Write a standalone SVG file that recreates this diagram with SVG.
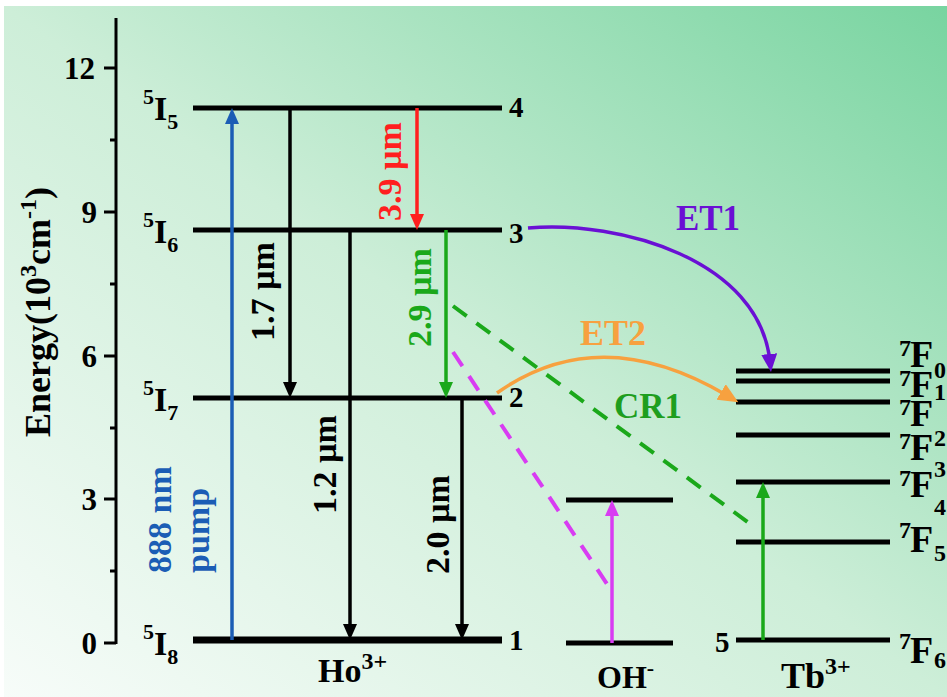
<svg xmlns="http://www.w3.org/2000/svg" width="947" height="697" viewBox="0 0 947 697">
<defs>
<linearGradient id="bg" x1="0" y1="1" x2="1" y2="0">
<stop offset="0" stop-color="#f7fcf9"/>
<stop offset="0.5" stop-color="#cdeed8"/>
<stop offset="1" stop-color="#78d4a0"/>
</linearGradient>
<marker id="ak" markerUnits="userSpaceOnUse" viewBox="0 0 16 14" refX="8" refY="7" markerWidth="16" markerHeight="14" orient="auto"><path d="M0,0 L16,7 L0,14 z" fill="#000"/></marker>
<marker id="ab" markerUnits="userSpaceOnUse" viewBox="0 0 16 14" refX="8" refY="7" markerWidth="16" markerHeight="14" orient="auto"><path d="M0,0 L16,7 L0,14 z" fill="#1b5db5"/></marker>
<marker id="ar" markerUnits="userSpaceOnUse" viewBox="0 0 16 14" refX="8" refY="7" markerWidth="16" markerHeight="14" orient="auto"><path d="M0,0 L16,7 L0,14 z" fill="#ff1f1f"/></marker>
<marker id="ag" markerUnits="userSpaceOnUse" viewBox="0 0 16 14" refX="8" refY="7" markerWidth="16" markerHeight="14" orient="auto"><path d="M0,0 L16,7 L0,14 z" fill="#1aa81a"/></marker>
<marker id="am" markerUnits="userSpaceOnUse" viewBox="0 0 16 14" refX="8" refY="7" markerWidth="16" markerHeight="14" orient="auto"><path d="M0,0 L16,7 L0,14 z" fill="#d83cf2"/></marker>
<marker id="ap" markerUnits="userSpaceOnUse" viewBox="0 0 18 16" refX="8" refY="8" markerWidth="18" markerHeight="16" orient="auto"><path d="M0,0 L18,8 L0,16 z" fill="#6a10d4"/></marker>
<marker id="ao" markerUnits="userSpaceOnUse" viewBox="0 0 20 18" refX="8" refY="9" markerWidth="20" markerHeight="18" orient="auto"><path d="M0,0 L20,9 L0,18 z" fill="#f7a13f"/></marker>
</defs>
<style>
text{font-family:"Liberation Serif","Times New Roman",serif;font-weight:bold;fill:#000}
.lv{stroke:#000;stroke-width:5;fill:none}
.ax{stroke:#000;stroke-width:3;fill:none}
.tk{font-size:31px;text-anchor:end}
.num{font-size:29px}
.rl{font-size:34px}
.sm{font-size:22px}
.big{font-size:34px}
.fs{font-size:24px}
.fl{font-size:38px}
.ar{fill:none;stroke-width:3.5}
.dash{fill:none;stroke-width:4;stroke-dasharray:17 12}
</style>
<rect x="4" y="6" width="943" height="691" fill="url(#bg)"/>

<g id="axis">
<line class="ax" x1="116" y1="18" x2="116" y2="644"/>
<path class="ax" d="M104,68H116M104,212H116M104,356H116M104,499H116M104,643H116M110,140H116M110,284H116M110,428H116M110,571H116"/>
<text class="tk" x="95" y="79">12</text>
<text class="tk" x="97" y="223">9</text>
<text class="tk" x="97" y="367">6</text>
<text class="tk" x="97" y="510">3</text>
<text class="tk" x="97" y="654">0</text>
<text transform="translate(50,312) rotate(-90)" text-anchor="middle" font-size="36">Energy(10<tspan font-size="24" dy="-14">3</tspan><tspan dy="14">cm</tspan><tspan font-size="24" dy="-14">-1</tspan><tspan dy="14">)</tspan></text>
</g>

<g id="ho">
<path class="lv" d="M193,108H502M193,230H502M193,398H502"/>
<line x1="193" y1="640" x2="502" y2="640" stroke="#000" stroke-width="7"/>
<text x="143" y="120"><tspan class="sm" dy="-16">5</tspan><tspan class="big" dy="16">I</tspan><tspan class="sm" dy="9">5</tspan></text>
<text x="143" y="243"><tspan class="sm" dy="-16">5</tspan><tspan class="big" dy="16">I</tspan><tspan class="sm" dy="9">6</tspan></text>
<text x="143" y="411"><tspan class="sm" dy="-16">5</tspan><tspan class="big" dy="16">I</tspan><tspan class="sm" dy="9">7</tspan></text>
<text x="143" y="655"><tspan class="sm" dy="-16">5</tspan><tspan class="big" dy="16">I</tspan><tspan class="sm" dy="9">8</tspan></text>
<text class="num" x="509" y="117">4</text>
<text class="num" x="509" y="243">3</text>
<text class="num" x="509" y="407">2</text>
<text class="num" x="509" y="650">1</text>
<text x="318" y="682" font-size="34">Ho<tspan font-size="24" dy="-13">3+</tspan></text>
</g>

<g id="oh">
<path class="lv" d="M566,500H673M566,643H673"/>
<text x="597" y="688" font-size="32">OH<tspan font-size="22" dy="-13">-</tspan></text>
</g>

<g id="tb">
<path class="lv" d="M736,371H890M736,381H890M736,402H890M736,435H890M736,482H890M736,542H890M736,640H890"/>
<text class="num" x="715" y="652">5</text>
<text x="781" y="688" font-size="36">Tb<tspan font-size="24" dy="-14">3+</tspan></text>
<text x="899" y="356" class="fs">7</text><text x="910" y="367" class="fl">F</text><text x="934" y="378" class="fs">0</text>
<text x="899" y="386" class="fs">7</text><text x="910" y="397" class="fl">F</text><text x="934" y="400" class="fs">1</text>
<text x="899" y="415" class="fs">7</text><text x="910" y="426" class="fl">F</text><text x="934" y="446" class="fs">2</text>
<text x="899" y="449" class="fs">7</text><text x="910" y="460" class="fl">F</text><text x="934" y="477" class="fs">3</text>
<text x="899" y="486" class="fs">7</text><text x="910" y="497" class="fl">F</text><text x="934" y="515" class="fs">4</text>
<text x="899" y="538" class="fs">7</text><text x="910" y="552" class="fl">F</text><text x="934" y="561" class="fs">5</text>
<text x="899" y="649" class="fs">7</text><text x="910" y="663" class="fl">F</text><text x="934" y="668" class="fs">6</text>
</g>

<g id="connectors">
<line class="ar" x1="232" y1="640" x2="232" y2="116" stroke="#1b5db5" stroke-width="4" marker-end="url(#ab)"/>
<line class="ar" x1="290" y1="108" x2="290" y2="390" stroke="#000" marker-end="url(#ak)"/>
<line class="ar" x1="350" y1="230" x2="350" y2="632" stroke="#000" marker-end="url(#ak)"/>
<line class="ar" x1="462" y1="398" x2="462" y2="632" stroke="#000" marker-end="url(#ak)"/>
<line class="ar" x1="417" y1="108" x2="417" y2="222" stroke="#ff1f1f" marker-end="url(#ar)"/>
<line class="ar" x1="446" y1="230" x2="446" y2="390" stroke="#1aa81a" stroke-width="4" marker-end="url(#ag)"/>
<line class="ar" x1="612" y1="643" x2="612" y2="508" stroke="#d83cf2" stroke-width="4" marker-end="url(#am)"/>
<line class="ar" x1="763" y1="640" x2="763" y2="490" stroke="#1aa81a" stroke-width="4.5" marker-end="url(#ag)"/>
<line class="dash" x1="453" y1="352" x2="607" y2="584" stroke="#d83cf2"/>
<line class="dash" x1="453" y1="306" x2="749" y2="523" stroke="#1aa81a"/>
<path class="ar" d="M528,228 C620,220 760,260 770,362" stroke="#6a10d4" stroke-width="4" marker-end="url(#ap)"/>
<path class="ar" d="M497,393 Q600,320 728,396" stroke="#f7a13f" stroke-width="5" marker-end="url(#ao)"/>
</g>

<g id="labels">
<text class="rl" transform="translate(171,573) rotate(-90)" style="fill:#1b5db5">888 nm</text>
<text class="rl" transform="translate(209,573) rotate(-90)" style="fill:#1b5db5">pump</text>
<text class="rl" transform="translate(274,341) rotate(-90)">1.7 µm</text>
<text class="rl" transform="translate(336,514) rotate(-90)">1.2 µm</text>
<text class="rl" transform="translate(449,574) rotate(-90)">2.0 µm</text>
<text class="rl" transform="translate(401,221) rotate(-90)" style="fill:#ff1f1f">3.9 µm</text>
<text class="rl" transform="translate(431,347) rotate(-90)" style="fill:#1aa81a">2.9 µm</text>
<text x="708" y="230" font-size="35" text-anchor="middle" style="fill:#6a10d4">ET1</text>
<text x="613" y="345" font-size="36" text-anchor="middle" style="fill:#f7a13f">ET2</text>
<text x="648" y="418" font-size="35" text-anchor="middle" style="fill:#1e9e1e">CR1</text>
</g>
</svg>
